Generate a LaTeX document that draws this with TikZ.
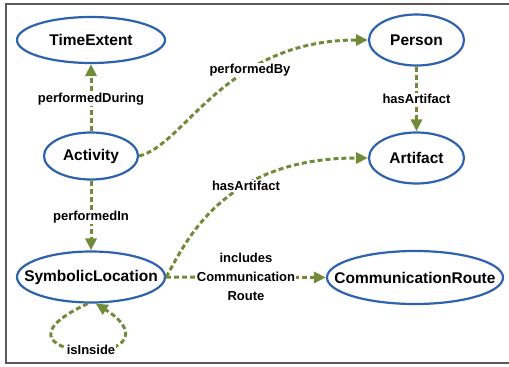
\documentclass[tikz,border=0pt]{standalone}
\usepackage{fontspec}
\setmainfont{Liberation Sans}
\usetikzlibrary{arrows.meta,shapes.geometric}

\definecolor{ovalblue}{RGB}{46,98,172}
\definecolor{linkgreen}{RGB}{112,140,58}

\tikzset{every picture/.style={line width=0.75pt}}
\tikzset{
  concept/.style={ellipse, draw=ovalblue, line width=2.2pt, inner sep=0pt,
    font=\fontsize{15.5}{18}\selectfont\bfseries},
  relation/.style={draw=linkgreen, line width=3pt, dash pattern=on 5pt off 3pt,
    -{Triangle[length=12pt,width=11pt,fill=linkgreen]}},
  rellabel/.style={fill=white, inner sep=1pt, align=center,
    font=\fontsize{13}{19}\selectfont\bfseries}
}
\newcommand{\ovaltext}[1]{\makebox[0pt]{#1}}

\begin{document}
\begin{tikzpicture}[x=1pt,y=1pt,yscale=-1,xscale=1]
\useasboundingbox (0,0) rectangle (509,367);

% Frame
\draw [color=black!65, line width=1.3pt] (512,4) -- (6,4) -- (6,363) -- (512,363);

% Text Node
\node [concept, minimum width=148pt, minimum height=46pt] (timeext) at (91,40) {\ovaltext{TimeExtent}};
% Text Node
\node [concept, minimum width=94pt, minimum height=47pt] (activity) at (91,156) {\ovaltext{Activity}};
% Text Node
\node [concept, minimum width=148pt, minimum height=51pt] (symloc) at (91,277) {\ovaltext{SymbolicLocation}};
% Text Node
\node [concept, minimum width=95pt, minimum height=51pt] (person) at (416.5,40) {\ovaltext{Person}};
% Text Node
\node [concept, minimum width=95pt, minimum height=51pt] (artifact) at (416.5,158) {\ovaltext{Artifact}};
% Text Node
\node [concept, minimum width=176pt, minimum height=53pt] (commroute) at (415,277.5) {\ovaltext{CommunicationRoute}};

% Connection
\draw [relation] (activity) -- (timeext);
% Connection
\draw [relation] (activity.east) .. controls (185,145) and (225,40) .. (person.west);
% Connection
\draw [relation] (person) -- (artifact);
% Connection
\draw [relation] (activity) -- (symloc);
% Connection
\draw [relation] (symloc.east) .. controls (185,245) and (220,158) .. (artifact.west);
% Connection
\draw [relation] (symloc.east) -- (commroute.west);
% Connection
\draw [relation] (symloc.263) .. controls +(-65,30) and +(-35,0) .. (91,351)
  .. controls +(35,0) and +(45,28) .. (symloc.280);

% Text Node
\node [rellabel] (lblduring) at (91,99) {performedDuring};
% Text Node
\node [rellabel] (lblby) at (250,70) {performedBy};
% Text Node
\node [rellabel] (lblart1) at (416.5,99) {hasArtifact};
% Text Node
\node [rellabel] (lblin) at (91,217) {performedIn};
% Text Node
\node [rellabel] (lblart2) at (246,186) {hasArtifact};
% Text Node
\node [rellabel] (lblincl) at (246,277) {includes\\Communication\\Route};
% Text Node
\node [rellabel] (lblinside) at (91,350) {isInside};

\end{tikzpicture}
\end{document}
